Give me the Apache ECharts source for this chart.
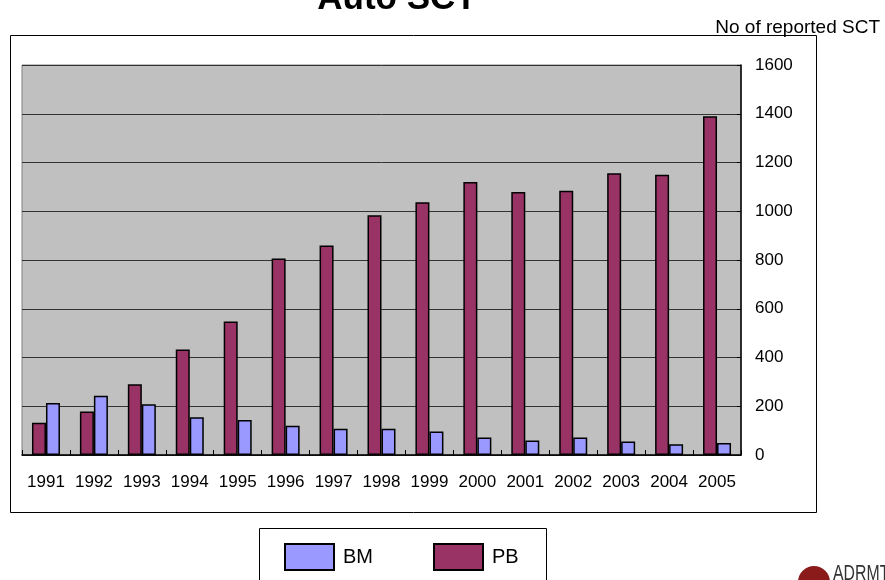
<!DOCTYPE html>
<html>
<head>
<meta charset="utf-8">
<script src="https://cdn.jsdelivr.net/npm/echarts@6/dist/echarts.min.js"></script>
<style>
html,body{margin:0;padding:0;background:#fff;}
#main{width:885px;height:580px;}
</style>
</head>
<body>
<div id="main"></div>
<script>
var years = ['1991','1992','1993','1994','1995','1996','1997','1998','1999','2000','2001','2002','2003','2004','2005'];
var pbValues = [132, 178, 290, 433, 548, 806, 860, 984, 1037, 1120, 1079, 1084, 1156, 1150, 1390];
var bmValues = [213, 243, 208, 155, 144, 120, 108, 108, 96, 72, 60, 72, 55, 44, 49];
var yTicks = {min: 0, max: 1600, interval: 200};
var titleText = 'Auto SCT';
var axisTitle = 'No of reported SCT';

var FONT = '"Liberation Sans", Arial, sans-serif';
var chart = echarts.init(document.getElementById('main'), null, {renderer: 'canvas'});
chart.setOption({
  animation: false,
  backgroundColor: '#fff',
  grid: {
    left: 22, right: 144, top: 65, bottom: 125,
    show: true, backgroundColor: '#C0C0C0', borderColor: '#808080', borderWidth: 1
  },
  legend: {
    data: ['BM', 'PB'],
    left: 284, top: 543, padding: 0,
    itemWidth: 49, itemHeight: 26, itemGap: 60,
    icon: 'rect',
    textStyle: {fontFamily: FONT, fontSize: 20, color: '#000', padding: [0, 0, 0, 4]}
  },
  xAxis: {
    type: 'category',
    data: years,
    axisLine: {lineStyle: {color: '#000', width: 1.5}},
    axisTick: {show: true, inside: true, length: 5, lineStyle: {color: '#000'}},
    axisLabel: {fontFamily: FONT, fontSize: 17, color: '#000', margin: 19, interval: 0}
  },
  yAxis: {
    type: 'value',
    position: 'right',
    min: yTicks.min, max: yTicks.max, interval: yTicks.interval,
    axisLine: {show: true, lineStyle: {color: '#000', width: 1.5}},
    axisTick: {show: true, inside: true, length: 4, lineStyle: {color: '#000'}},
    axisLabel: {fontFamily: FONT, fontSize: 17, color: '#000', margin: 14, formatter: function (v) { return String(v); }},
    splitLine: {show: true, lineStyle: {color: '#333', width: 1}}
  },
  series: [
    {
      name: 'PB', type: 'bar', data: pbValues,
      barWidth: 14, barGap: '0%',
      itemStyle: {color: '#993366', borderColor: '#000', borderWidth: 1.5}
    },
    {
      name: 'BM', type: 'bar', data: bmValues,
      barWidth: 14, barGap: '0%',
      itemStyle: {color: '#9999FF', borderColor: '#000', borderWidth: 1.5}
    }
  ],
  graphic: [
    {type: 'rect', shape: {x: 10.5, y: 35.5, width: 806, height: 477}, style: {fill: 'none', stroke: '#000', lineWidth: 1}, z: -10},
    {type: 'rect', shape: {x: 259.5, y: 528.5, width: 287, height: 70}, style: {fill: 'none', stroke: '#000', lineWidth: 1}, z: -10},
    {type: 'text', x: 397, y: 17, style: {text: titleText, font: 'bold 35px ' + FONT, fill: '#000', textAlign: 'center', textVerticalAlign: 'bottom'}},
    {type: 'text', x: 880, y: 18, style: {text: axisTitle, font: '19px ' + FONT, fill: '#000', textAlign: 'right', textVerticalAlign: 'top'}},
    {type: 'circle', shape: {cx: 814, cy: 582, r: 16}, style: {fill: '#8B1A1A'}},
    {type: 'text', x: 833, y: 563, scaleX: 0.72, style: {text: 'ADRMT', font: '22px ' + FONT, fill: '#333', textVerticalAlign: 'top'}}
  ]
});
</script>
</body>
</html>
